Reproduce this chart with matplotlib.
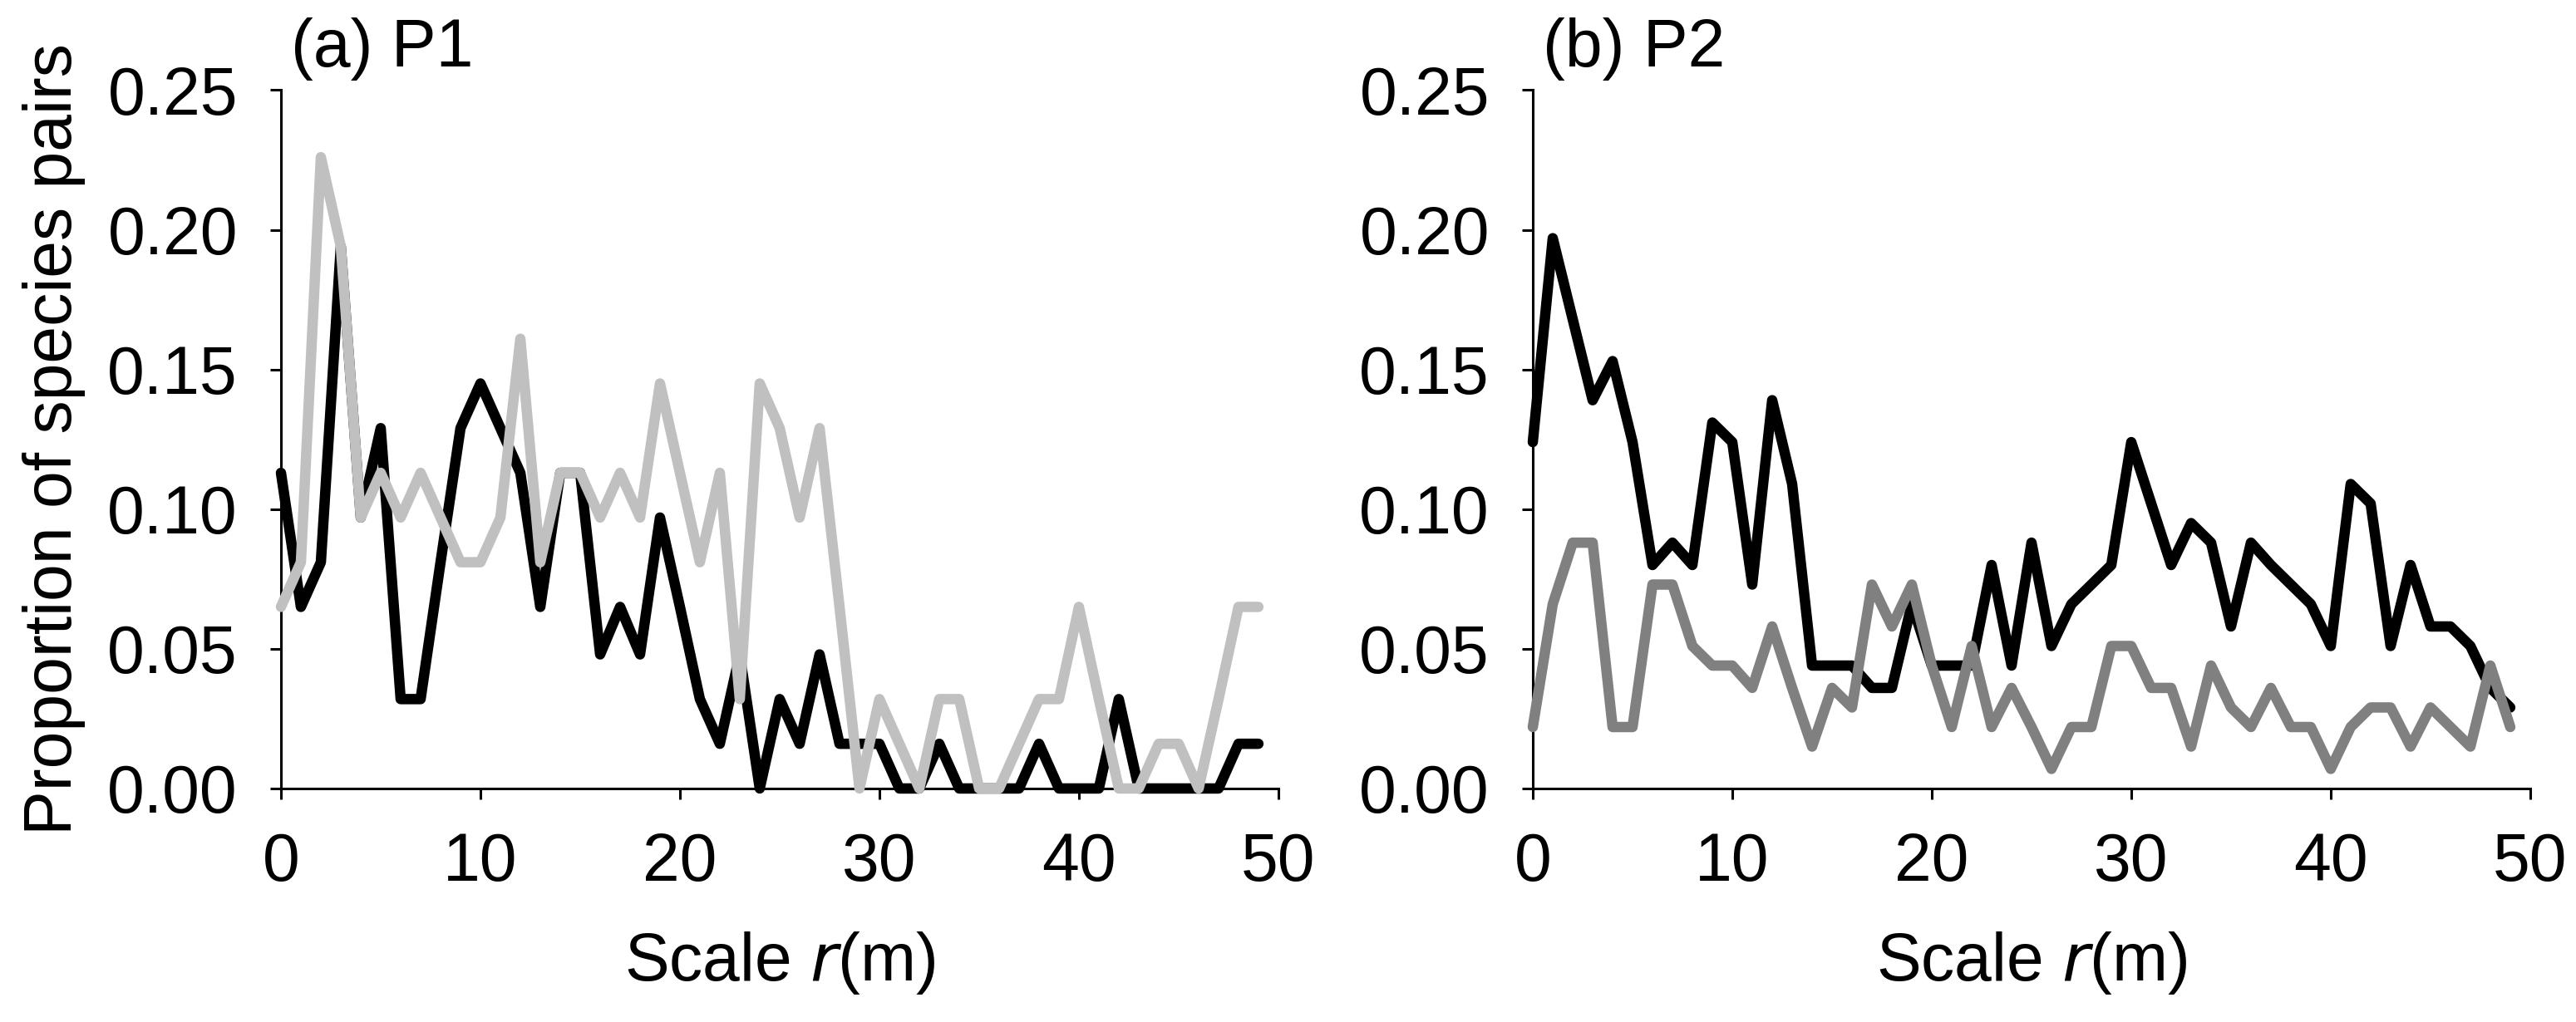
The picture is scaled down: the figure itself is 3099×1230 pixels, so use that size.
import numpy as np
import matplotlib
matplotlib.use("Agg")
import matplotlib.pyplot as plt

plt.rcParams['font.family'] = ['Liberation Sans', 'DejaVu Sans']

# scale r (m)
r = list(range(50))

# (a) P1 - proportion of species pairs
p1_black = [0.113, 0.065, 0.081, 0.194, 0.097, 0.129, 0.032, 0.032, 0.081, 0.129,
            0.145, 0.129, 0.113, 0.065, 0.113, 0.113, 0.048, 0.065, 0.048, 0.097,
            0.065, 0.032, 0.016, 0.048, 0.000, 0.032, 0.016, 0.048, 0.016, 0.016,
            0.016, 0.000, 0.000, 0.016, 0.000, 0.000, 0.000, 0.000, 0.016, 0.000,
            0.000, 0.000, 0.032, 0.000, 0.000, 0.000, 0.000, 0.000, 0.016, 0.016]
p1_gray = [0.065, 0.081, 0.226, 0.194, 0.097, 0.113, 0.097, 0.113, 0.097, 0.081,
           0.081, 0.097, 0.161, 0.081, 0.113, 0.113, 0.097, 0.113, 0.097, 0.145,
           0.113, 0.081, 0.113, 0.032, 0.145, 0.129, 0.097, 0.129, 0.065, 0.000,
           0.032, 0.016, 0.000, 0.032, 0.032, 0.000, 0.000, 0.016, 0.032, 0.032,
           0.065, 0.032, 0.000, 0.000, 0.016, 0.016, 0.000, 0.032, 0.065, 0.065]

# (b) P2
p2_black = [0.124, 0.197, 0.168, 0.139, 0.153, 0.124, 0.080, 0.088, 0.080, 0.131,
            0.124, 0.073, 0.139, 0.109, 0.044, 0.044, 0.044, 0.036, 0.036, 0.066,
            0.044, 0.044, 0.044, 0.080, 0.044, 0.088, 0.051, 0.066, 0.073, 0.080,
            0.124, 0.102, 0.080, 0.095, 0.088, 0.058, 0.088, 0.080, 0.073, 0.066,
            0.051, 0.109, 0.102, 0.051, 0.080, 0.058, 0.058, 0.051, 0.036, 0.029]
p2_gray = [0.022, 0.066, 0.088, 0.088, 0.022, 0.022, 0.073, 0.073, 0.051, 0.044,
           0.044, 0.036, 0.058, 0.036, 0.015, 0.036, 0.029, 0.073, 0.058, 0.073,
           0.044, 0.022, 0.051, 0.022, 0.036, 0.022, 0.007, 0.022, 0.022, 0.051,
           0.051, 0.036, 0.036, 0.015, 0.044, 0.029, 0.022, 0.036, 0.022, 0.022,
           0.007, 0.022, 0.029, 0.029, 0.015, 0.029, 0.022, 0.015, 0.044, 0.022]

panels = [("(a) P1", p1_black, p1_gray, "#c0c0c0"),
          ("(b) P2", p2_black, p2_gray, "#808080")]

fig = plt.figure(figsize=(30.99, 12.30), dpi=100)
lefts = [338 / 3099, 1844 / 3099]
fs = 58

for i, (title, blk, gry, gcol) in enumerate(panels):
    ax = fig.add_axes([lefts[i], 0.2285, 0.3872, 0.6833])
    ax.plot(r, blk, color='black', lw=9, solid_joinstyle='round',
            solid_capstyle='round', clip_on=False, zorder=3)
    ax.plot(r, gry, color=gcol, lw=9, solid_joinstyle='round',
            solid_capstyle='round', clip_on=False, zorder=4)
    ax.set_xlim(0, 50)
    ax.set_ylim(0, 0.25)
    ax.set_xticks(range(0, 51, 10))
    ax.set_yticks(np.arange(0, 0.26, 0.05))
    ax.set_yticklabels([f"{v:.2f}" for v in np.arange(0, 0.26, 0.05)])
    for s in ['top', 'right']:
        ax.spines[s].set_visible(False)
    for s in ['left', 'bottom']:
        ax.spines[s].set_linewidth(2.2)
    ax.tick_params(direction='out', length=9.5, width=2.2, labelsize=fs, pad=28)
    ax.set_xlabel("Scale $\\mathit{r}$(m)", fontsize=fs, labelpad=30)
    ax.text(0.01, 1.034, title, transform=ax.transAxes, fontsize=fs,
            ha='left', va='baseline')
    if i == 0:
        ax.set_ylabel("Proportion of species pairs", fontsize=fs)
        ax.yaxis.set_label_coords(-0.196, 0.5)

fig.savefig("out.png", dpi=100)
